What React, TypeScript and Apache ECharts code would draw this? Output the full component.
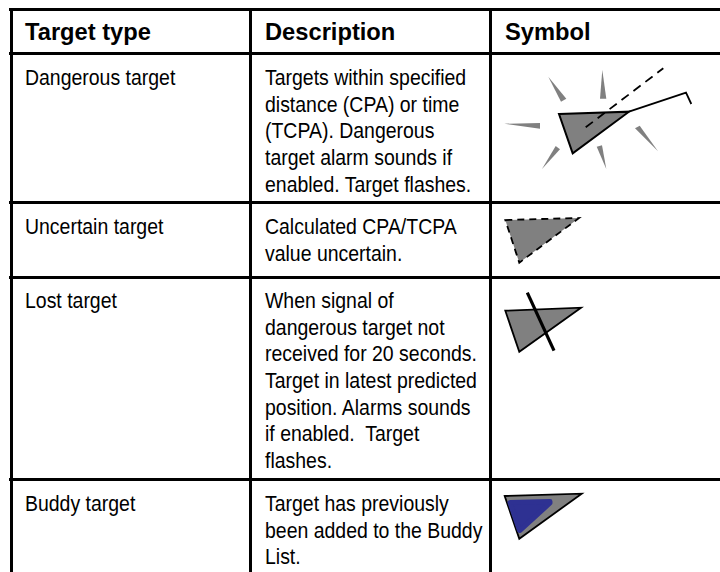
import React, { useEffect, useRef } from "react";
import * as echarts from "echarts";

const headers = ["Target type", "Description", "Symbol"];
const targetTypes = ["Dangerous target", "Uncertain target", "Lost target", "Buddy target"];
const descriptions = [
  ["Targets within specified", "distance (CPA) or time", "(TCPA). Dangerous", "target alarm sounds if", "enabled. Target flashes."],
  ["Calculated CPA/TCPA", "value uncertain."],
  ["When signal of", "dangerous target not", "received for 20 seconds.", "Target in latest predicted", "position. Alarms sounds", "if enabled.  Target", "flashes."],
  ["Target has previously", "been added to the Buddy", "List."],
];

const colX = [25, 265, 505];
const rowTop = [77, 226, 300, 503];
const pitch = 26.7;
const FONT = "Liberation Sans";
const SX = 0.91;
const poly = (points: number[][], style: any) => ({ type: "polygon", shape: { points }, style });
const line = (x1: number, y1: number, x2: number, y2: number, lineWidth = 3, extra: any = {}) => ({
  type: "line", shape: { x1, y1, x2, y2 }, style: { stroke: "#000", lineWidth, ...extra },
});
const txt = (text: string, x: number, y: number, bold = false) => ({
  type: "text", x, y, scaleX: bold ? 1 : SX,
  style: { text, fill: "#000", fontFamily: FONT, fontSize: bold ? 23.7 : 21.4, fontWeight: bold ? "bold" : "normal", verticalAlign: "middle" },
});

const GRAY = "#808080";
const spikes = [
  [[548.3, 76.7], [561, 101.7], [566.3, 98.7]],
  [[602.3, 70], [600, 98.7], [606.3, 98.7]],
  [[504.3, 123.7], [540, 123], [540, 128.7]],
  [[542, 169], [555.7, 146], [560, 149.3]],
  [[606.3, 169], [596.7, 146.7], [602, 145.3]],
  [[658, 151.3], [635, 128.3], [639.7, 125.7]],
];

function buildElements() {
  const els: any[] = [];
  els.push(line(9, 9.5, 720, 9.5), line(9, 53.5, 720, 53.5), line(9, 202.5, 720, 202.5), line(9, 277.5, 720, 277.5), line(9, 479.5, 720, 479.5));
  els.push(line(11.5, 8, 11.5, 572), line(250.5, 8, 250.5, 572), line(490.5, 8, 490.5, 572));
  headers.forEach((h, i) => els.push(txt(h, colX[i], 32, true)));
  targetTypes.forEach((t, i) => els.push(txt(t, colX[0], rowTop[i], false)));
  descriptions.forEach((lines, i) => lines.forEach((l, j) => els.push(txt(l, colX[1], rowTop[i] + j * pitch))));
  // Dangerous symbol
  spikes.forEach((s) => els.push(poly(s, { fill: GRAY })));
  els.push(poly([[559, 114], [629, 111.7], [572.7, 153.3]], { fill: GRAY, stroke: "#000", lineWidth: 2 }));
  els.push({ type: "polyline", shape: { points: [[629, 111.7], [686, 92.7], [691.3, 104]] }, style: { stroke: "#000", lineWidth: 1.8, fill: "none" } });
  els.push(line(585.7, 127.3, 663.3, 68.3, 1.8, { lineDash: [9, 6] }));
  // Uncertain symbol
  els.push(poly([[505.3, 220], [579, 218], [519.3, 262.7]], { fill: GRAY, stroke: "#000", lineWidth: 1.8, lineDash: [7, 5] }));
  // Lost symbol
  els.push(poly([[505.3, 310.7], [581, 307.7], [519.3, 351.7]], { fill: GRAY, stroke: "#000", lineWidth: 1.8 }));
  els.push(line(527.3, 292.7, 554, 350.7, 3.2));
  // Buddy symbol
  els.push(poly([[504.7, 496], [581.7, 493.7], [519.3, 538.7]], { fill: GRAY, stroke: "#000", lineWidth: 1.8 }));
  els.push(poly([[510, 502.5], [550, 501.5], [550, 503], [520, 530.5], [519.5, 530.5]], { fill: "#2e3192", stroke: "#2e3192", lineWidth: 5, lineJoin: "round" }));
  return els;
}

export default function App() {
  const ref = useRef<HTMLDivElement>(null);
  useEffect(() => {
    document.body.style.margin = "0";
    document.body.style.background = "#fff";
    const chart = echarts.init(ref.current!, undefined, { renderer: "svg" });
    chart.setOption({ animation: false, backgroundColor: "#fff", graphic: { elements: buildElements() } });
    return () => chart.dispose();
  }, []);
  return <div ref={ref} style={{ width: 720, height: 572 }} />;
}
